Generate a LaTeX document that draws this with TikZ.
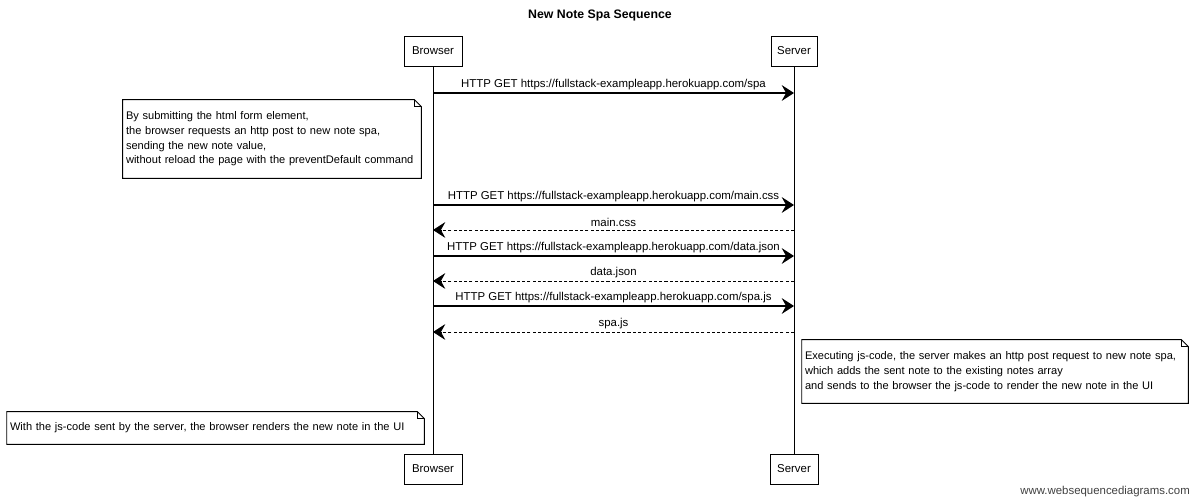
\documentclass[tikz,border=0pt]{standalone}
\usepackage{fontspec}
\setmainfont{Liberation Sans}
\usetikzlibrary{arrows.meta}

\newcommand{\notefold}[1]{%
  \draw[line width=0.5pt] (#1.south west) -- (#1.north west) -- ([xshift=-4pt]#1.north east) -- ([yshift=-4pt]#1.north east) -- (#1.south east) -- cycle;
  \draw[line width=0.4pt] ([xshift=-4pt]#1.north east) -- ([xshift=-4pt,yshift=-4pt]#1.north east) -- ([yshift=-4pt]#1.north east);}

\begin{document}
\begin{tikzpicture}[x=0.02cm, y=-0.02cm, font=\fontsize{6.5}{8}\selectfont,
    actor/.style={draw, line width=0.5pt, fill=white, minimum height=0.6cm, inner sep=1pt},
    msg/.style={line width=0.6pt, -{Stealth[length=7pt,width=9pt,inset=2.5pt]}},
    reply/.style={msg, line width=0.5pt, dash pattern=on 1.8pt off 1.2pt},
    lbl/.style={above, inner sep=1.5pt},
    notebox/.style={align=left, inner sep=0.06cm, font=\fontsize{6.3}{8.4}\selectfont,
      execute at begin node={\hyphenpenalty=10000\relax}}]
	\useasboundingbox (0,0) rectangle (1200,502);
	\node[font=\fontsize{7}{8}\selectfont\bfseries] (title) at (600,15) {New Note Spa Sequence};
	% participants
	\node[actor, minimum width=1.16cm] (bTop) at (433,51) {Browser};
	\node[actor, minimum width=0.92cm] (sTop) at (794,51) {Server};
	\node[actor, minimum width=1.16cm] (bBot) at (433,469) {Browser};
	\node[actor, minimum width=0.96cm] (sBot) at (794,469) {Server};
	\draw[line width=0.5pt] (bTop) -- (bBot);
	\draw[line width=0.5pt] (sTop) -- (sBot);
	% requests
	\foreach \y/\txt in {93/{HTTP GET https://fullstack-exampleapp.herokuapp.com/spa},
	                     205/{HTTP GET https://fullstack-exampleapp.herokuapp.com/main.css},
	                     256/{HTTP GET https://fullstack-exampleapp.herokuapp.com/data.json},
	                     306/{HTTP GET https://fullstack-exampleapp.herokuapp.com/spa.js}}
	  \draw[msg] (bTop |- 0,\y) -- node[lbl] {\txt} (sTop |- 0,\y);
	% responses
	\foreach \y/\txt in {230/main.css, 281/data.json, 332/spa.js}
	  \draw[reply] (sTop |- 0,\y) -- node[lbl] {\txt} (bTop |- 0,\y);
	% notes
	\node[notebox, text width=5.84cm, minimum height=1.56cm] (formNote) at (272,139)
	  {By submitting the html form element,\\the browser requests an http post to new note spa,\\sending the new note value,\\without reload the page with the preventDefault command};
	\notefold{formNote}
	\node[notebox, text width=7.6cm, minimum height=1.26cm] (serverNote) at (995,371.5)
	  {Executing js-code, the server makes an http post request to new note spa,\\which adds the sent note to the existing notes array\\and sends to the browser the js-code to render the new note in the UI};
	\notefold{serverNote}
	\node[notebox, text width=8.22cm, minimum height=0.64cm] (renderNote) at (215.5,428)
	  {With the js-code sent by the server, the browser renders the new note in the UI};
	\notefold{renderNote}
	\node[anchor=east, text=darkgray] (footer) at (1196,492) {www.websequencediagrams.com};
\end{tikzpicture}
\end{document}
